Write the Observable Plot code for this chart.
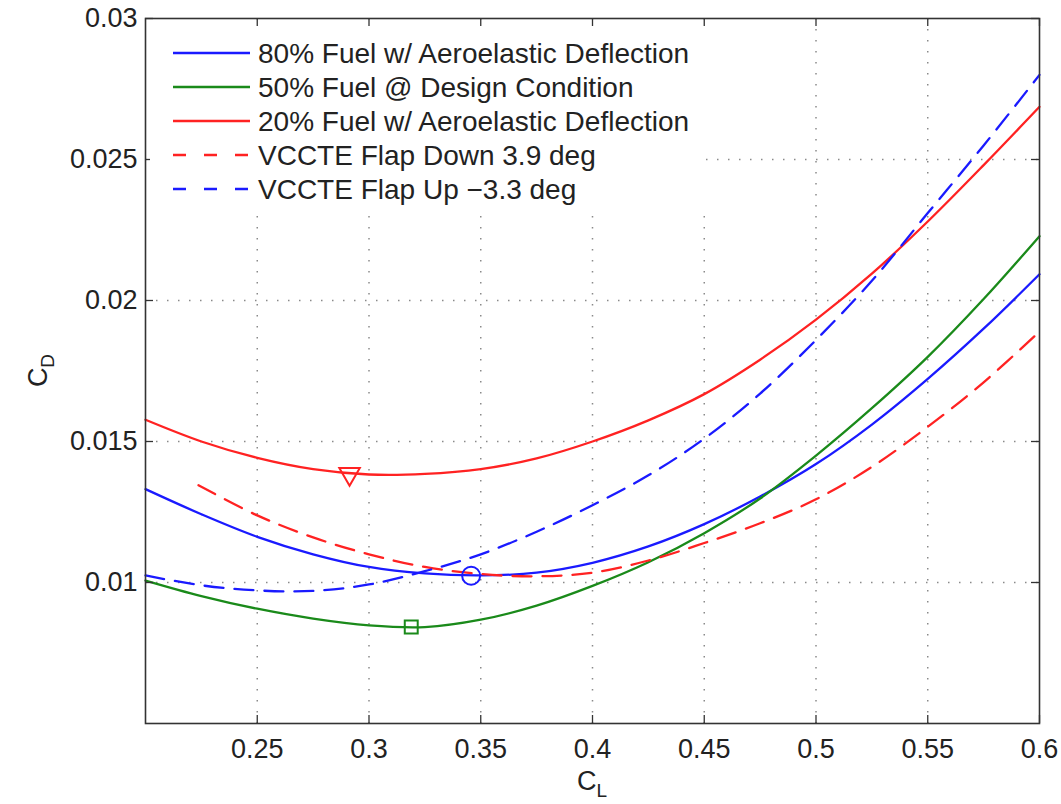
<!DOCTYPE html>
<html><head><meta charset="utf-8">
<script src="https://cdn.jsdelivr.net/npm/d3@7"></script>
<script src="https://cdn.jsdelivr.net/npm/@observablehq/plot@0.6"></script>
<style>
html,body{margin:0;padding:0;background:#fff;}
#wrap{position:relative;width:1061px;height:804px;font-family:"Liberation Sans",Arial,Helvetica,sans-serif;}
#legend{position:absolute;left:150px;top:27px;}
</style>
</head><body>
<div id="wrap"></div>
<script>
// ---- data ----
const clGrid = [0.2, 0.225, 0.25, 0.275, 0.3, 0.325, 0.35, 0.375, 0.4, 0.425, 0.45, 0.475, 0.5, 0.525, 0.55, 0.575, 0.6];
const cd80 = [0.01331, 0.01242, 0.01162, 0.01100, 0.01055, 0.01032, 0.01025, 0.01035, 0.01070, 0.01128, 0.01207, 0.01305, 0.01420, 0.01560, 0.01722, 0.01900, 0.02093];
const cd50 = [0.01007, 0.00952, 0.00907, 0.00872, 0.00848, 0.00842, 0.00868, 0.00918, 0.00988, 0.01072, 0.01175, 0.01298, 0.01450, 0.01618, 0.01800, 0.02005, 0.02228];
const cd20 = [0.01577, 0.01500, 0.01442, 0.01402, 0.01383, 0.01385, 0.01402, 0.01440, 0.01500, 0.01575, 0.01668, 0.01790, 0.01932, 0.02095, 0.02280, 0.02480, 0.02687];
const clDown = [0.2237, 0.25, 0.275, 0.3, 0.325, 0.35, 0.375, 0.4, 0.425, 0.45, 0.475, 0.5, 0.525, 0.55, 0.575, 0.6];
const cdDown = [0.01345, 0.01238, 0.01160, 0.01100, 0.01055, 0.01030, 0.01022, 0.01035, 0.01078, 0.01140, 0.01210, 0.01295, 0.01410, 0.01552, 0.01710, 0.01890];
const cdUp = [0.01025, 0.00990, 0.00972, 0.00970, 0.00993, 0.01040, 0.01100, 0.01180, 0.01274, 0.01380, 0.01510, 0.01670, 0.01860, 0.02070, 0.02310, 0.02550, 0.02800];

const seriesNames = ["80% Fuel w/ Aeroelastic Deflection", "50% Fuel @ Design Condition", "20% Fuel w/ Aeroelastic Deflection", "VCCTE Flap Down 3.9 deg", "VCCTE Flap Up \u22123.3 deg"];
const seriesColors = ["#1a1aff", "#1a8a1a", "#ff2222", "#ff2222", "#1a1aff"];
const seriesDashed = [false, false, false, true, true];
const seriesCL = [clGrid, clGrid, clGrid, clDown, clGrid];
const seriesCD = [cd80, cd50, cd20, cdDown, cdUp];

const markerCL = [0.3457, 0.3189, 0.2913];
const markerCD = [0.01024, 0.00842, 0.01385];
const markerSymbol = ["circle", "square", "triangle"];
const markerColor = ["#1a1aff", "#1a8a1a", "#ff2222"];
const markerR = [9, 7.3, 7.6];
const markerRotate = [0, 0, 180];

const xTicks = [0.25, 0.3, 0.35, 0.4, 0.45, 0.5, 0.55, 0.6];
const yTicks = [0.01, 0.015, 0.02, 0.025, 0.03];
const xDomain = [0.2, 0.6];
const yDomain = [0.005, 0.03];

// ---- layout ----
const W = 1061, H = 804, mL = 145, mR = 22, mT = 18, mB = 81;
const innerW = W - mL - mR, innerH = H - mT - mB;
const tickLen = 8;
const FONT = '"Liberation Sans", Arial, Helvetica, sans-serif';

const rows = [];
seriesNames.forEach((name, i) => {
  seriesCL[i].forEach((cl, j) => rows.push({series: name, cl, cd: seriesCD[i][j]}));
});

const gridStyle = {stroke: "#8a8a8a", strokeWidth: 1.5, strokeDasharray: "1.5,9.5"};

const marks = [
  Plot.ruleX(xTicks.filter(v => v < xDomain[1]), {x: d => d, ...gridStyle}),
  Plot.ruleY(yTicks.filter(v => v < yDomain[1]), {y: d => d, ...gridStyle}),
  ...seriesNames.map((name, i) => Plot.line(rows.filter(r => r.series === name), {
    x: "cl", y: "cd", stroke: seriesColors[i], strokeWidth: 2.3,
    strokeDasharray: seriesDashed[i] ? "19,11" : null, curve: "catmull-rom"
  })),
  ...markerCL.map((cl, i) => Plot.dot([{cl, cd: markerCD[i]}], {
    x: "cl", y: "cd", symbol: markerSymbol[i], r: markerR[i], rotate: markerRotate[i],
    stroke: markerColor[i], fill: "none", strokeWidth: 2
  })),
  Plot.tickX(xTicks, {x: d => d, insetTop: innerH - tickLen, stroke: "#333", strokeWidth: 1.3}),
  Plot.tickX(xTicks, {x: d => d, insetBottom: innerH - tickLen, stroke: "#333", strokeWidth: 1.3}),
  Plot.tickY(yTicks, {y: d => d, insetRight: innerW - tickLen, stroke: "#333", strokeWidth: 1.3}),
  Plot.tickY(yTicks, {y: d => d, insetLeft: innerW - tickLen, stroke: "#333", strokeWidth: 1.3}),
  Plot.frame({stroke: "#333", strokeWidth: 1.6})
];

const chart = Plot.plot({
  width: W, height: H,
  marginLeft: mL, marginRight: mR, marginTop: mT, marginBottom: mB,
  style: {fontFamily: FONT, fontSize: "27px", color: "#222", background: "#fff", overflow: "visible"},
  x: {domain: xDomain, ticks: xTicks, tickFormat: d => String(d), tickSize: 0, tickPadding: 15, label: null},
  y: {domain: yDomain, ticks: yTicks, tickFormat: d => String(d), tickSize: 0, tickPadding: 8, label: null},
  marks
});

const wrap = document.getElementById("wrap");
wrap.appendChild(chart);

// axis titles with subscripts
const svg = d3.select(chart.tagName.toLowerCase() === "svg" ? chart : chart.querySelector("svg"));
const xt = svg.append("text").attr("x", mL + innerW / 2).attr("y", 790)
  .attr("text-anchor", "middle").attr("fill", "#222").style("font-family", FONT).style("font-size", "27px");
xt.append("tspan").text("C");
xt.append("tspan").attr("dy", 7).style("font-size", "19px").text("L");
const yt = svg.append("text").attr("transform", `translate(47,${mT + innerH / 2}) rotate(-90)`)
  .attr("text-anchor", "middle").attr("fill", "#222").style("font-family", FONT).style("font-size", "27px");
yt.append("tspan").text("C");
yt.append("tspan").attr("dy", 7).style("font-size", "19px").text("D");

// legend (white box, no border) over the upper-left of the plot
const lg = d3.select(wrap).append("svg").attr("id", "legend").attr("width", 555).attr("height", 181);
lg.append("rect").attr("width", 555).attr("height", 181).attr("fill", "#fff");
seriesNames.forEach((name, i) => {
  const cy = 26 + i * 34;
  lg.append("line").attr("x1", 23).attr("x2", 100).attr("y1", cy).attr("y2", cy)
    .attr("stroke", seriesColors[i]).attr("stroke-width", 2.3)
    .attr("stroke-dasharray", seriesDashed[i] ? "13,18" : null);
  lg.append("text").attr("x", 108).attr("y", cy).attr("dy", "0.36em")
    .attr("fill", "#222").style("font-family", FONT).style("font-size", "28px").text(name);
});
</script>
</body></html>
